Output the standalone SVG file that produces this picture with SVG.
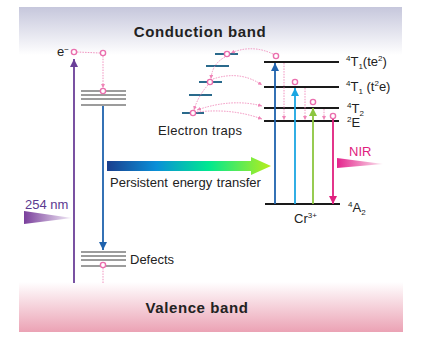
<svg xmlns="http://www.w3.org/2000/svg" width="427" height="338" viewBox="0 0 427 338">
<style>
text{font-family:"Liberation Sans",Arial,sans-serif;fill:#222}
.band{font-weight:bold;font-size:15px;letter-spacing:0.6px}
.lbl{font-size:13px}
.sm{font-size:8px}
.lvl{stroke:#1a1a1a;stroke-width:2}
.gray{stroke:#9c9c9c;stroke-width:1.8}
.trap{stroke:#2a6a8c;stroke-width:2}
.dot{fill:none;stroke:#ef86b8;stroke-width:0.9;stroke-dasharray:1.5 1.2}
.e{fill:#fff;stroke:#ea6fae;stroke-width:1.4}
</style>
<defs>
<linearGradient id="gCB" x1="0" y1="0" x2="0" y2="1"><stop offset="0" stop-color="#c6c7dc"/><stop offset="1" stop-color="#ffffff"/></linearGradient>
<linearGradient id="gVB" x1="0" y1="0" x2="0" y2="1"><stop offset="0" stop-color="#ffffff"/><stop offset="1" stop-color="#eba2b4"/></linearGradient>
<linearGradient id="gET" x1="0" y1="0" x2="1" y2="0"><stop offset="0" stop-color="#1b3f8e"/><stop offset="0.3" stop-color="#0a8fd8"/><stop offset="0.62" stop-color="#00e890"/><stop offset="1" stop-color="#b8ee1a"/></linearGradient>
<linearGradient id="gUV" x1="0" y1="0" x2="1" y2="0"><stop offset="0" stop-color="#7a3f9c"/><stop offset="1" stop-color="#f4eef8"/></linearGradient>
<linearGradient id="gNIR" x1="0" y1="0" x2="1" y2="0"><stop offset="0" stop-color="#e4248c"/><stop offset="1" stop-color="#fbe6f0"/></linearGradient>
<marker id="aPur" viewBox="0 0 10 10" refX="10" refY="5" markerWidth="9" markerHeight="8" markerUnits="userSpaceOnUse" orient="auto"><path d="M0,0L10,5L0,10z" fill="#6b3f98"/></marker>
<marker id="aBlu" viewBox="0 0 10 10" refX="10" refY="5" markerWidth="8" markerHeight="8" markerUnits="userSpaceOnUse" orient="auto"><path d="M0,0L10,5L0,10z" fill="#1f62ad"/></marker>
<marker id="aCya" viewBox="0 0 10 10" refX="10" refY="5" markerWidth="8" markerHeight="8" markerUnits="userSpaceOnUse" orient="auto"><path d="M0,0L10,5L0,10z" fill="#1ba6e2"/></marker>
<marker id="aGrn" viewBox="0 0 10 10" refX="10" refY="5" markerWidth="8" markerHeight="8" markerUnits="userSpaceOnUse" orient="auto"><path d="M0,0L10,5L0,10z" fill="#8cc63f"/></marker>
<marker id="aMag" viewBox="0 0 10 10" refX="10" refY="5" markerWidth="8" markerHeight="8" markerUnits="userSpaceOnUse" orient="auto"><path d="M0,0L10,5L0,10z" fill="#e0207e"/></marker>
<marker id="aPk" viewBox="0 0 10 10" refX="10" refY="5" markerWidth="4" markerHeight="4" markerUnits="userSpaceOnUse" orient="auto-start-reverse"><path d="M0,0L10,5L0,10z" fill="#ef86b8"/></marker>
</defs>
<rect width="427" height="338" fill="#fff"/>

<g id="conduction-band">
<rect x="19" y="7" width="383" height="48" fill="url(#gCB)"/>
<text class="band" x="200" y="37" text-anchor="middle">Conduction band</text>
</g>
<g id="valence-band">
<rect x="19" y="282" width="384" height="50" fill="url(#gVB)"/>
<text class="band" x="197" y="313" text-anchor="middle">Valence band</text>
</g>

<g id="electron">
<text class="lbl" x="57" y="56">e<tspan class="sm" dy="-4">−</tspan></text>
</g>

<g id="shallow-traps">
<line class="gray" x1="81" y1="91" x2="126" y2="91"/>
<line class="gray" x1="81" y1="95" x2="126" y2="95"/>
<line class="gray" x1="81" y1="99" x2="126" y2="99"/>
<line class="gray" x1="81" y1="105" x2="126" y2="105"/>
</g>
<g id="defects">
<line class="gray" x1="81" y1="252" x2="126" y2="252"/>
<line class="gray" x1="81" y1="256" x2="126" y2="256"/>
<line class="gray" x1="81" y1="260" x2="126" y2="260"/>
<line class="gray" x1="81" y1="266" x2="126" y2="266"/>
<text class="lbl" x="130" y="264" font-size="13.5">Defects</text>
</g>

<g id="uv-254">
<polygon points="24,211 72,218 24,224" fill="url(#gUV)"/>
<text class="lbl" x="25" y="209" font-size="13.5" style="fill:#5b3a90">254 nm</text>
</g>

<g id="energy-transfer">
<polygon points="107,161 251,161 251,157 271,166 251,175 251,171 107,171" fill="url(#gET)"/>
<text class="lbl" x="110" y="187" word-spacing="1">Persistent energy transfer</text>
</g>

<g id="electron-traps">
<line class="trap" x1="215" y1="54" x2="238" y2="54"/>
<line class="trap" x1="206" y1="66" x2="229" y2="66"/>
<line class="trap" x1="199" y1="82" x2="222" y2="82"/>
<line class="trap" x1="189" y1="95" x2="212" y2="95"/>
<line class="trap" x1="182" y1="113" x2="204" y2="113"/>
<text class="lbl" x="158" y="135" font-size="13.5" letter-spacing="0.3">Electron traps</text>
</g>

<g id="cr-levels">
<line class="lvl" x1="264" y1="62" x2="339" y2="62"/>
<line class="lvl" x1="264" y1="87" x2="339" y2="87"/>
<line class="lvl" x1="264" y1="108" x2="339" y2="108"/>
<line class="lvl" x1="264" y1="121" x2="339" y2="121"/>
<line class="lvl" x1="265" y1="204" x2="340" y2="204"/>
<text class="lbl" x="346" y="66"><tspan class="sm" dy="-5">4</tspan><tspan dy="5">T</tspan><tspan class="sm" dy="3">1</tspan><tspan dy="-3">(te</tspan><tspan class="sm" dy="-5">2</tspan><tspan dy="5">)</tspan></text>
<text class="lbl" x="346" y="91"><tspan class="sm" dy="-5">4</tspan><tspan dy="5">T</tspan><tspan class="sm" dy="3">1</tspan><tspan dy="-3"> (t</tspan><tspan class="sm" dy="-5">2</tspan><tspan dy="5">e)</tspan></text>
<text class="lbl" x="347" y="113"><tspan class="sm" dy="-5">4</tspan><tspan dy="5">T</tspan><tspan class="sm" dy="3">2</tspan></text>
<text class="lbl" x="347" y="127"><tspan class="sm" dy="-5">2</tspan><tspan dy="5">E</tspan></text>
<text class="lbl" x="348" y="212"><tspan class="sm" dy="-5">4</tspan><tspan dy="5">A</tspan><tspan class="sm" dy="3">2</tspan></text>
<text class="lbl" x="294" y="223">Cr<tspan class="sm" dy="-5">3+</tspan></text>
</g>

<g id="nir">
<polygon points="337,158 383,164 337,168" fill="url(#gNIR)"/>
<text class="lbl" x="349" y="156" font-size="14" style="fill:#e0207e">NIR</text>
</g>

<g id="connectors">
<line x1="74" y1="283" x2="74" y2="59" stroke="#6b3f98" stroke-width="1.8" marker-end="url(#aPur)"/>
<line x1="103" y1="106" x2="103" y2="250" stroke="#1f62ad" stroke-width="1.8" marker-end="url(#aBlu)"/>
<line x1="275" y1="204" x2="275" y2="63" stroke="#1f62ad" stroke-width="1.8" marker-end="url(#aBlu)"/>
<line x1="295" y1="204" x2="295" y2="88" stroke="#1ba6e2" stroke-width="1.8" marker-end="url(#aCya)"/>
<line x1="313" y1="204" x2="313" y2="108" stroke="#8cc63f" stroke-width="1.8" marker-end="url(#aGrn)"/>
<line x1="333" y1="119" x2="333" y2="204" stroke="#e0207e" stroke-width="1.8" marker-end="url(#aMag)"/>
<path class="dot" d="M77,52 L100,53"/>
<path class="dot" d="M103,56 L103,88" marker-end="url(#aPk)"/>
<path class="dot" d="M103,268 L103,283"/>
<path class="dot" d="M284,63 L284,120" marker-end="url(#aPk)"/>
<path class="dot" d="M305,88 L305,120" marker-end="url(#aPk)"/>
<path class="dot" d="M324,109 L324,120" marker-end="url(#aPk)"/>
<path class="dot" d="M273,54 Q252,44 231,53" marker-end="url(#aPk)"/>
<path class="dot" d="M225,57 Q212,64 211,79" marker-end="url(#aPk)"/>
<path class="dot" d="M208,85 Q198,96 194,110" marker-end="url(#aPk)"/>
<path class="dot" d="M213,79 Q240,70 262,85" marker-end="url(#aPk)"/>
<path class="dot" d="M197,110 Q232,98 262,106" marker-start="url(#aPk)" marker-end="url(#aPk)"/>
<path class="dot" d="M197,112 Q232,108 262,119" marker-end="url(#aPk)"/>
</g>

<g id="electron-dots">
<circle class="e" cx="74" cy="52" r="2.6"/>
<circle class="e" cx="103" cy="53" r="2.6"/>
<circle class="e" cx="103" cy="91" r="2.6"/>
<circle class="e" cx="103" cy="265" r="2.6"/>
<circle class="e" cx="227" cy="54" r="2.6"/>
<circle class="e" cx="210" cy="82" r="2.6"/>
<circle class="e" cx="193" cy="113" r="2.6"/>
<circle class="e" cx="276" cy="56" r="2.6"/>
<circle class="e" cx="295" cy="82" r="2.6"/>
<circle class="e" cx="313" cy="102" r="2.6"/>
<circle class="e" cx="333" cy="116" r="2.6"/>
</g>
</svg>
